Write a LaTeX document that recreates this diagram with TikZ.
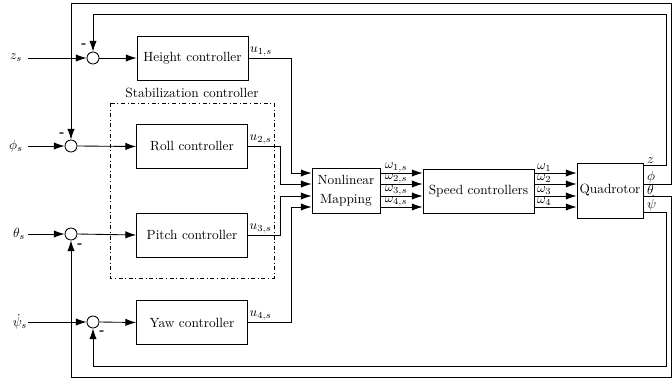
\documentclass[tikz,border=0pt]{standalone}
\usetikzlibrary{arrows.meta}
\begin{document}
\begin{tikzpicture}[x=0.75pt,y=-0.75pt,line width=0.65pt,
  blk/.style={draw, minimum width=83.25pt, minimum height=33pt, inner sep=0pt},
  sumc/.style={draw, circle, minimum size=9pt, inner sep=0pt},
  arr/.style={-{Latex[length=8pt,width=5.5pt]}},
  minus/.style={inner sep=0pt, font=\bfseries},
  lbl/.style={inner sep=1pt}]
\useasboundingbox (0,0) rectangle (672,383);
% blocks
\node[blk] (hc) at (192.5,58) {Height controller};
\node[blk] (rc) at (192,146.5) {Roll controller};
\node[blk] (pc) at (192,235) {Pitch controller};
\node[blk] (yc) at (192,322.5) {Yaw controller};
\node[draw, minimum width=51pt, minimum height=33.75pt, inner sep=0pt, align=center] (map) at (346,190.5) {Nonlinear\\[2pt]Mapping};
\node[blk] (spd) at (478.5,191) {Speed controllers};
\node[draw, minimum width=49.5pt, minimum height=41.25pt, inner sep=0pt] (quad) at (610,190.5) {Quadrotor};
% stabilization box
\draw[dash dot] (110,103) rectangle (274,278);
\node (stab) at (192,93) {Stabilization controller};
% sums
\node[sumc] (zsum) at (93,58) {};
\node[sumc] (phisum) at (71,146) {};
\node[sumc] (thsum) at (71,234) {};
\node[sumc] (psisum) at (93,322) {};
\node[minus] at (84,46) {-};
\node[minus] at (62,135) {-};
\node[minus] at (80,246) {-};
\node[minus] at (102,333) {-};
% inputs
\node (zs) at (16,58) {$z_s$};
\node (phis) at (16,146) {$\phi_s$};
\node (ths) at (19,234) {$\theta_s$};
\node (psis) at (20,322) {$\dot\psi_s$};
\coordinate (zin) at (28,58);
\coordinate (phiin) at (28,146);
\coordinate (thin) at (28,234);
\coordinate (psiin) at (28,322);
\draw[arr] (zin) -- (zsum.west);
\draw[arr] (phiin) -- (phisum.west);
\draw[arr] (thin) -- (thsum.west);
\draw[arr] (psiin) -- (psisum.west);
\draw[arr] (zsum.east) -- (hc.west);
\draw[arr] (phisum.east) -- (rc.west);
\draw[arr] (thsum.east) -- (pc.west);
\draw[arr] (psisum.east) -- (yc.west);
% controller outputs to mapping
\coordinate (y1) at (0,173);
\coordinate (y2) at (0,184);
\coordinate (y3) at (0,196);
\coordinate (y4) at (0,207);
\coordinate (xa) at (291,0);
\coordinate (xb) at (280,0);
\draw[arr] (hc.east) -| (xa |- y1) -- (map.west |- y1);
\draw[arr] (rc.east |- 0,146) -| (xb |- y2) -- (map.west |- y2);
\draw[arr] (pc.east) -| (xb |- y3) -- (map.west |- y3);
\draw[arr] (yc.east) -| (xa |- y4) -- (map.west |- y4);
\node[lbl, anchor=south west] at (hc.east) {$u_{1,s}$};
\node[lbl, anchor=south west] at (rc.east |- 0,146) {$u_{2,s}$};
\node[lbl, anchor=south west] at (pc.east) {$u_{3,s}$};
\node[lbl, anchor=south west] at (yc.east) {$u_{4,s}$};
% mapping to speed
\draw[arr] (map.east |- y1) -- (spd.west |- y1);
\draw[arr] (map.east |- y2) -- (spd.west |- y2);
\draw[arr] (map.east |- y3) -- (spd.west |- y3);
\draw[arr] (map.east |- y4) -- (spd.west |- y4);
\node[inner sep=0.5pt, anchor=south] at (396,173) {$\omega_{1,s}$};
\node[inner sep=0.5pt, anchor=south] at (396,184) {$\omega_{2,s}$};
\node[inner sep=0.5pt, anchor=south] at (396,196) {$\omega_{3,s}$};
\node[inner sep=0.5pt, anchor=south] at (396,207) {$\omega_{4,s}$};
% speed to quad
\draw[arr] (spd.east |- y1) -- (quad.west |- y1);
\draw[arr] (spd.east |- y2) -- (quad.west |- y2);
\draw[arr] (spd.east |- y3) -- (quad.west |- y3);
\draw[arr] (spd.east |- y4) -- (quad.west |- y4);
\node[inner sep=0.5pt, anchor=south west] at (536,173) {$\omega_1$};
\node[inner sep=0.5pt, anchor=south west] at (536,184) {$\omega_2$};
\node[inner sep=0.5pt, anchor=south west] at (536,196) {$\omega_3$};
\node[inner sep=0.5pt, anchor=south west] at (536,207) {$\omega_4$};
% feedback
\coordinate (yz) at (0,165);
\coordinate (yphi) at (0,184);
\coordinate (yth) at (0,196);
\coordinate (ypsi) at (0,212);
\coordinate (cz) at (666,14);
\coordinate (cphi) at (671,3);
\coordinate (cth) at (671,377);
\coordinate (cpsi) at (666,366);
\draw[arr] (quad.east |- yz) -| (cz) -| (zsum.north);
\draw[arr] (quad.east |- yphi) -| (cphi) -| (phisum.north);
\draw[arr] (quad.east |- yth) -| (cth) -| (thsum.south);
\draw[arr] (quad.east |- ypsi) -| (cpsi) -| (psisum.south);
\node[inner sep=0.5pt, anchor=south west] at (646,165) {$z$};
\node[inner sep=0.5pt, anchor=south west] at (646,184) {$\phi$};
\node[inner sep=0.5pt, anchor=south west] at (646,196) {$\theta$};
\node[inner sep=0.5pt, anchor=south west] at (646,212) {$\dot\psi$};
\end{tikzpicture}
\end{document}
